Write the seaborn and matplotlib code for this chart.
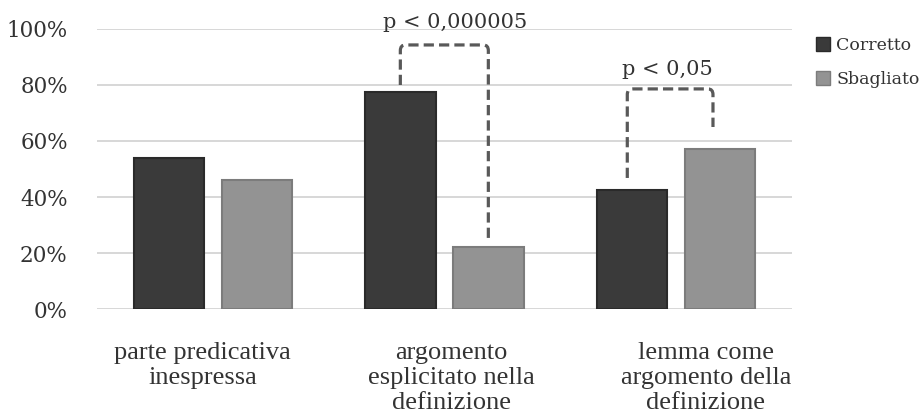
import matplotlib
matplotlib.use("Agg")
import matplotlib.pyplot as plt
from matplotlib.path import Path
from matplotlib.patches import PathPatch, Patch
from matplotlib.ticker import PercentFormatter
from matplotlib.transforms import ScaledTranslation
import seaborn as sns
import pandas as pd

# Data
categories = [
    "parte predicativa\ninespressa",
    "argomento\nesplicitato nella\ndefinizione",
    "lemma come\nargomento della\ndefinizione",
]
series_names = ["Corretto", "Sbagliato"]
corretto = [54, 77.5, 42.5]
sbagliato = [46, 22, 57]
p_labels = ["p < 0,000005", "p < 0,05"]
# brackets: (category index, left foot, top, right foot) in %
brackets = [(1, 80, 94.3, 23.6), (2, 46.8, 78.6, 65)]
p_text_y = [100.2, 83.4]

df = pd.DataFrame({
    "categoria": categories * 2,
    "esito": [series_names[0]] * 3 + [series_names[1]] * 3,
    "valore": corretto + sbagliato,
})

dark, light = "#3a3a3a", "#939393"
edge_dark, edge_light = "#2a2a2a", "#7c7c7c"
text_col = "#333333"
grid_col = "#d4d4d4"

sns.set_theme(style="white")
plt.rcParams["font.family"] = ["DejaVu Serif", "DejaVu Sans"]

fig = plt.figure(figsize=(9.19, 4.13), dpi=100)
ax = fig.add_axes([0.1055, 0.2518, 0.756, 0.678])

sns.barplot(data=df, x="categoria", y="valore", hue="esito",
            palette=[dark, light], width=0.76, gap=0.2, ax=ax,
            legend=False, zorder=3)

for cont, ec in zip(ax.containers, [edge_dark, edge_light]):
    for p in cont:
        p.set_edgecolor(ec)
        p.set_linewidth(1.5)

ax.set_xlim(-0.5, 2.5)
ax.set_ylim(0, 100)
ax.set_yticks([0, 20, 40, 60, 80, 100])
ax.yaxis.set_major_formatter(PercentFormatter(decimals=0))
ax.grid(axis="y", color=grid_col, linewidth=1.3, zorder=0)
ax.set_axisbelow(True)
for s in ax.spines.values():
    s.set_visible(False)
ax.set_xlabel("")
ax.set_ylabel("")
ax.tick_params(axis="y", length=0, pad=21, labelsize=15.5, labelcolor=text_col)
ax.tick_params(axis="x", length=0, pad=24, labelcolor=text_col)

# wrapped category labels sit slightly off the group centres
label_shift_px = [-10, 7, 30]
for lab, dx in zip(ax.get_xticklabels(), label_shift_px):
    lab.set_fontfamily("Liberation Serif")
    lab.set_fontsize(19)
    lab.set_linespacing(1.16)
    lab.set_transform(lab.get_transform() +
                      ScaledTranslation(dx / 100, 0, fig.dpi_scale_trans))


def bracket(x1, x2, y1, ytop, y2, rx=0.022, ry=2.0):
    verts = [(x1, y1), (x1, ytop - ry), (x1, ytop), (x1 + rx, ytop),
             (x2 - rx, ytop), (x2, ytop), (x2, ytop - ry), (x2, y2)]
    codes = [Path.MOVETO, Path.LINETO, Path.CURVE3, Path.CURVE3,
             Path.LINETO, Path.CURVE3, Path.CURVE3, Path.LINETO]
    return PathPatch(Path(verts, codes), fill=False, edgecolor="#595959",
                     linewidth=2.3, linestyle=(0, (3.2, 1.6)),
                     capstyle="butt", clip_on=False, zorder=4)


bars_c, bars_s = ax.containers[0], ax.containers[1]
text_shift = [0.045, -0.01]
for (i, yl, yt, yr), txt, ty, dx in zip(brackets, p_labels, p_text_y, text_shift):
    pc, ps = bars_c[i], bars_s[i]
    xl = pc.get_x() + pc.get_width() / 2
    xr = ps.get_x() + ps.get_width() / 2
    if i == 2:
        xl -= 0.02
        xr -= 0.03
    ax.add_patch(bracket(xl, xr, yl, yt, yr))
    ax.text((xl + xr) / 2 + dx, ty, txt, ha="center", va="baseline",
            fontsize=15, color=text_col, clip_on=False)

handles = [Patch(facecolor=dark, edgecolor=edge_dark),
           Patch(facecolor=light, edgecolor=edge_light)]
fig.legend(handles, series_names, loc="upper left",
           bbox_to_anchor=(0.88, 0.928), frameon=False, fontsize=12.5,
           handlelength=0.85, handleheight=0.85, handletextpad=0.35,
           labelspacing=1.0, labelcolor=text_col, borderaxespad=0)

fig.savefig("out.png", dpi=100, facecolor="white")
